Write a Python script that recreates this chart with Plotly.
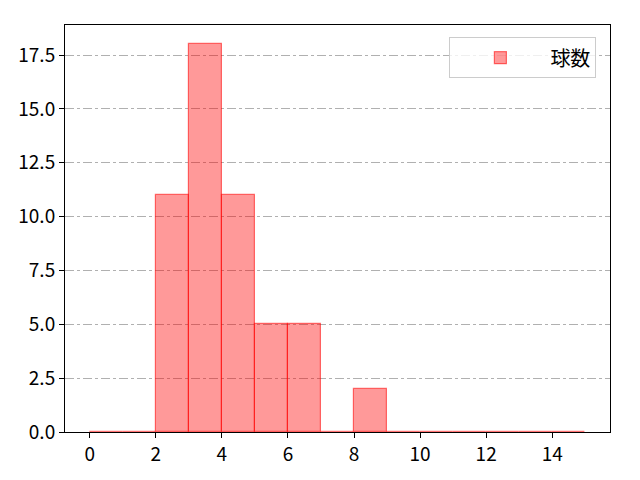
import plotly.graph_objects as go

# histogram of pitch counts, bins 0..15 width 1
bin_left = list(range(15))
counts = [0, 0, 11, 18, 11, 5, 5, 0, 2, 0, 0, 0, 0, 0, 0]
x_ticks = [0, 2, 4, 6, 8, 10, 12, 14]
y_ticks = [0, 2.5, 5, 7.5, 10, 12.5, 15, 17.5]

centers = [b + 0.5 for b in bin_left]

fig = go.Figure()
fig.add_trace(go.Bar(
    x=centers, y=counts, width=1, name="球数",
    marker=dict(color="rgba(255,0,0,0.4)",
                line=dict(color="rgba(255,0,0,0.55)", width=1.2)),
))

# page body has 8px margin, so shift margins accordingly
fig.update_layout(
    width=640, height=480,
    margin=dict(l=57, r=38, t=17, b=56),
    paper_bgcolor="white", plot_bgcolor="white",
    font=dict(family="Noto Sans CJK JP", size=19, color="black"),
    bargap=0, showlegend=True,
    legend=dict(x=0.975, y=0.97, xanchor="right", yanchor="top",
                bordercolor="#cccccc", borderwidth=1, bgcolor="rgba(255,255,255,0.8)",
                font=dict(size=20), itemwidth=90),
)
fig.update_xaxes(range=[-0.75, 15.75], tickvals=x_ticks, showgrid=False,
                 showline=True, linecolor="black", mirror=True, zeroline=False,
                 ticks="outside", ticklen=5, tickcolor="black", automargin=False)
fig.update_yaxes(range=[0, 18.9], tickvals=y_ticks, ticktext=[f"{v:.1f}" for v in y_ticks],
                 showgrid=True, gridcolor="#b0b0b0", griddash="dashdot", gridwidth=1,
                 showline=True, linecolor="black", mirror=True, zeroline=False,
                 ticks="outside", ticklen=5, tickcolor="black", automargin=False)

fig.write_html("out.html")
